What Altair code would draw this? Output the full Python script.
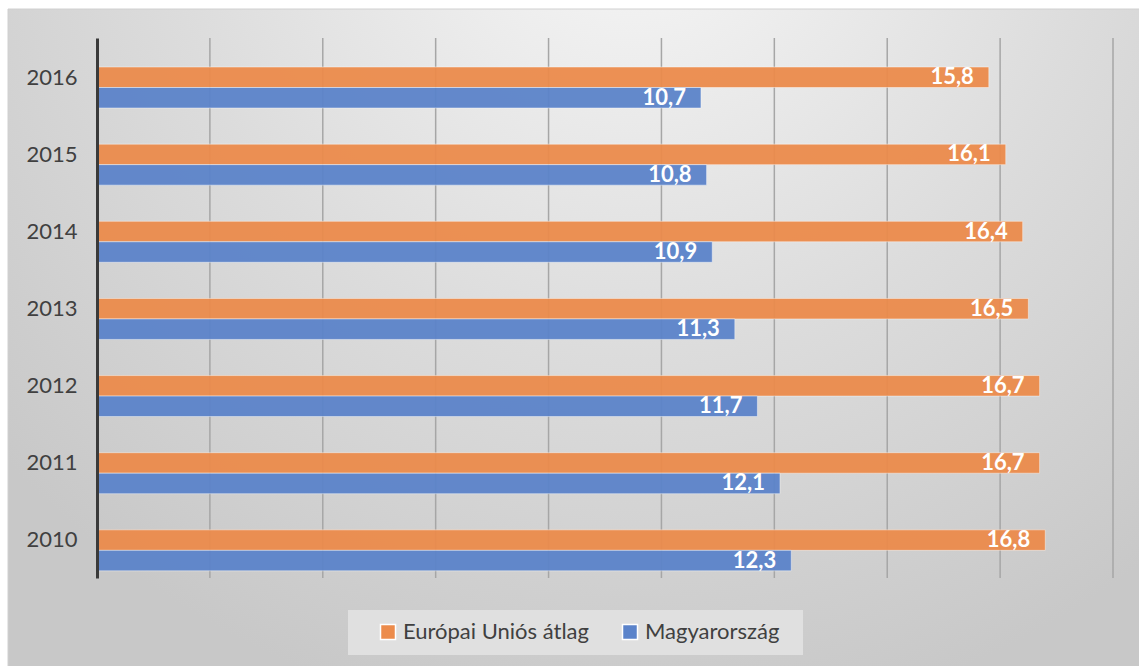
import altair as alt
import pandas as pd

years = ["2016", "2015", "2014", "2013", "2012", "2011", "2010"]
eu_values = [15.8, 16.1, 16.4, 16.5, 16.7, 16.7, 16.8]
hu_values = [10.7, 10.8, 10.9, 11.3, 11.7, 12.1, 12.3]
series_names = ["Európai Uniós átlag", "Magyarország"]
colors = ["#ec8b4b", "#5b83ca"]
grid_values = [2, 4, 6, 8, 10, 12, 14, 16, 18]

rows = []
for yr, e, h in zip(years, eu_values, hu_values):
    rows.append({"year": yr, "series": series_names[0], "value": e,
                 "label": f"{e:.1f}".replace(".", ",")})
    rows.append({"year": yr, "series": series_names[1], "value": h,
                 "label": f"{h:.1f}".replace(".", ",")})
df = pd.DataFrame(rows)

W, H = 1016, 540
LEFT, TOP = 97, 38

xscale = alt.Scale(domain=[0, 18], nice=False, zero=True)
yscale = alt.Scale(paddingInner=0, paddingOuter=0)
offscale = alt.Scale(range=[29, 70], paddingInner=0, paddingOuter=0)
yaxis = alt.Axis(title=None, labelFont="Lato", labelFontSize=22, labelColor="#404040",
                 domainColor="#3a3a3a", domainWidth=3, ticks=False, labelPadding=20,
                 grid=False, zindex=1, labelBaseline="middle", labelOffset=1)

gradient = alt.RadialGradient(
    gradient="radial", x1=0.55, y1=0.1, r1=0, x2=0.55, y2=0.1, r2=0.75,
    stops=[alt.GradientStop(offset=0, color="#f8f8f8"),
           alt.GradientStop(offset=0.55, color="#dcdcdc"),
           alt.GradientStop(offset=1, color="#c8c8c8")])

one = pd.DataFrame({"k": [0]})
bg = alt.Chart(one).mark_rect(color=gradient, stroke="#d0d0d0", strokeWidth=1).encode(
    x=alt.value(8 - LEFT), x2=alt.value(1139 - LEFT + 2),
    y=alt.value(9 - TOP), y2=alt.value(666 - TOP + 2))

legbox = alt.Chart(one).mark_rect(color="#e0e0e0").encode(
    x=alt.value(348 - LEFT), x2=alt.value(803 - LEFT),
    y=alt.value(610 - TOP), y2=alt.value(655 - TOP))

grid = alt.Chart(pd.DataFrame({"g": grid_values})).mark_rule(
    color="#a6a6a6", strokeWidth=1.5).encode(
    x=alt.X("g:Q", scale=xscale, axis=None),
    y=alt.value(0), y2=alt.value(H))

bars = alt.Chart(df).mark_bar(opacity=0.94, stroke="#ffffff", strokeOpacity=0.45,
                              strokeWidth=1).encode(
    x=alt.X("value:Q", scale=xscale, axis=None),
    y=alt.Y("year:N", sort=years, scale=yscale, axis=yaxis),
    yOffset=alt.YOffset("series:N", sort=series_names, scale=offscale),
    color=alt.Color("series:N", sort=series_names,
                    scale=alt.Scale(domain=series_names, range=colors),
                    legend=alt.Legend(orient="none", legendX=280, legendY=583,
                                      direction="horizontal", title=None,
                                      symbolType="square", symbolSize=225,
                                      labelFont="Lato", labelFontSize=22,
                                      labelColor="#404040", columnPadding=30,
                                      labelOffset=4, symbolOpacity=1,
                                      labelLimit=0)))

text = alt.Chart(df).mark_text(align="right", baseline="middle", dx=-15, font="Lato",
                               fontWeight="bold", fontSize=22, color="white").encode(
    x=alt.X("value:Q", scale=xscale, axis=None),
    y=alt.Y("year:N", sort=years, scale=yscale, axis=yaxis),
    yOffset=alt.YOffset("series:N", sort=series_names, scale=offscale),
    text="label:N")

chart = alt.layer(bg, legbox, grid, bars, text).properties(
    width=W, height=H,
    autosize=alt.AutoSizeParams(type="none"),
    padding={"left": LEFT, "top": TOP, "right": 1139 - LEFT - W, "bottom": 666 - TOP - H},
    background="white",
).configure_view(stroke=None)

chart.save("out.html", embed_options={"renderer": "svg", "actions": False})
